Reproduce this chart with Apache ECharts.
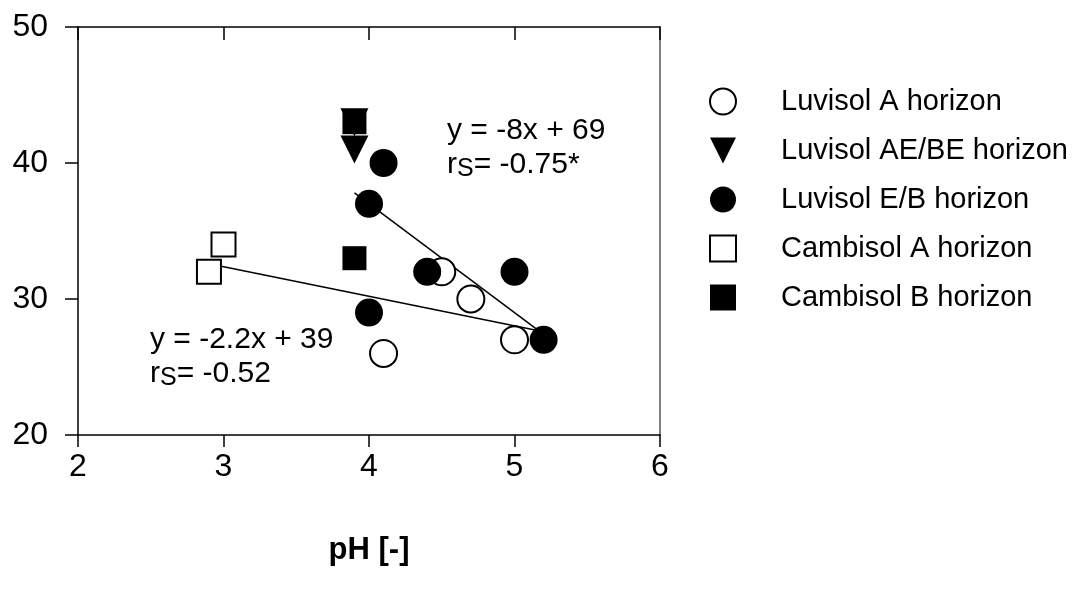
<!DOCTYPE html>
<html>
<head>
<meta charset="utf-8">
<script src="https://cdn.jsdelivr.net/npm/echarts@6/dist/echarts.min.js"></script>
<style>
  html, body { margin: 0; padding: 0; background: #fff; }
  #chart { width: 1082px; height: 590px; }
</style>
</head>
<body>
<div id="chart"></div>
<script>
// pH vs value, five soil horizons
const xTicks = [2, 3, 4, 5, 6];
const yTicks = [20, 30, 40, 50];

const luvisolA = [[4.5, 32], [4.7, 30], [4.1, 26], [5.0, 27]];
const luvisolAEBE = [[3.9, 43], [3.9, 41]];
const luvisolEB = [[4.1, 40], [4.0, 37], [4.4, 32], [5.0, 32], [4.0, 29], [5.2, 27]];
const cambisolA = [[2.9, 32], [3.0, 34]];
const cambisolB = [[3.9, 43], [3.9, 33]];

// regression lines, end points
const fitLuvisol = [[3.9, 37.8], [5.2, 27.4]];
const fitAll = [[2.9, 32.6], [5.2, 27.6]];

const seriesNames = ['Luvisol A horizon', 'Luvisol AE/BE horizon', 'Luvisol E/B horizon',
  'Cambisol A horizon', 'Cambisol B horizon'];

const FONT = 'Liberation Sans, Arial, sans-serif';
const triangle = 'path://M0,0 L20,0 L10,20 Z';
const square = 'path://M0,0 L20,0 L20,20 L0,20 Z';

const chart = echarts.init(document.getElementById('chart'));

const fitLine = (data) => ({
  type: 'line',
  data: data,
  symbol: 'none',
  silent: true,
  z: 1,
  lineStyle: { color: '#000', width: 1.5 }
});

const subText = (eq, r, left, top) => ({
  type: 'text',
  left: left,
  top: top,
  style: {
    text: eq + '\n{r|r}{s|S}{r|= ' + r + '}',
    font: '30px ' + FONT,
    fill: '#000',
    lineHeight: 33,
    rich: {
      r: { fontSize: 30, fontFamily: FONT, lineHeight: 33 },
      s: { fontSize: 25, fontFamily: FONT, verticalAlign: 'bottom', lineHeight: 35 }
    }
  }
});

chart.setOption({
  animation: false,
  backgroundColor: '#fff',
  textStyle: { fontFamily: FONT },
  grid: { left: 78, right: 422, top: 27, bottom: 155 },
  legend: {
    orient: 'vertical',
    left: 704,
    top: 82,
    itemWidth: 26,
    itemHeight: 26,
    itemGap: 20,
    data: seriesNames,
    formatter: name => '{g|}' + name,
    textStyle: {
      fontSize: 29, color: '#000', fontFamily: FONT, lineHeight: 26,
      rich: { g: { width: 40 } }
    }
  },
  xAxis: [{
    type: 'value',
    min: xTicks[0],
    max: xTicks[xTicks.length - 1],
    interval: 1,
    name: 'pH [-]',
    nameLocation: 'middle',
    nameGap: 100,
    nameTextStyle: { fontSize: 31, fontWeight: 'bold', color: '#000' },
    axisLine: { lineStyle: { color: '#000', width: 1.5 } },
    axisTick: { inside: false, length: 12, lineStyle: { color: '#000', width: 1.5 } },
    axisLabel: { fontSize: 32, color: '#000', margin: 16 },
    splitLine: { show: false }
  }, {
    type: 'value',
    position: 'top',
    min: xTicks[0],
    max: xTicks[xTicks.length - 1],
    interval: 1,
    axisLine: { lineStyle: { color: '#000', width: 1.5 } },
    axisTick: { inside: true, length: 13, lineStyle: { color: '#000', width: 1.5 } },
    axisLabel: { show: false },
    splitLine: { show: false }
  }],
  yAxis: [{
    type: 'value',
    min: yTicks[0],
    max: yTicks[yTicks.length - 1],
    interval: 10,
    axisLine: { show: true, lineStyle: { color: '#000', width: 1.5 } },
    axisTick: { show: true, inside: false, length: 13, lineStyle: { color: '#000', width: 1.5 } },
    axisLabel: { fontSize: 32, color: '#000', margin: 30 },
    splitLine: { show: false }
  }, {
    type: 'value',
    position: 'right',
    min: yTicks[0],
    max: yTicks[yTicks.length - 1],
    interval: 10,
    axisLine: { show: true, lineStyle: { color: '#808080', width: 2 } },
    axisTick: { show: false },
    axisLabel: { show: false },
    splitLine: { show: false }
  }],
  graphic: [
    subText('y = -8x + 69', '-0.75*', 447, 114),
    subText('y = -2.2x + 39', '-0.52', 150, 323)
  ],
  series: [
    fitLine(fitLuvisol),
    fitLine(fitAll),
    {
      name: seriesNames[0], type: 'scatter', data: luvisolA, z: 3,
      symbol: 'circle', symbolSize: 27,
      itemStyle: { color: '#fff', borderColor: '#000', borderWidth: 2, opacity: 1 }
    },
    {
      name: seriesNames[1], type: 'scatter', data: luvisolAEBE, z: 3,
      symbol: triangle, symbolSize: [28, 28],
      itemStyle: { color: '#000', opacity: 1 }
    },
    {
      name: seriesNames[2], type: 'scatter', data: luvisolEB, z: 3,
      symbol: 'circle', symbolSize: 28,
      itemStyle: { color: '#000', opacity: 1 }
    },
    {
      name: seriesNames[3], type: 'scatter', data: cambisolA, z: 3,
      symbol: square, symbolSize: 24,
      itemStyle: { color: '#fff', borderColor: '#000', borderWidth: 2, opacity: 1 }
    },
    {
      name: seriesNames[4], type: 'scatter', data: cambisolB, z: 3,
      symbol: square, symbolSize: 24,
      itemStyle: { color: '#000', opacity: 1 }
    }
  ]
});
</script>
</body>
</html>
